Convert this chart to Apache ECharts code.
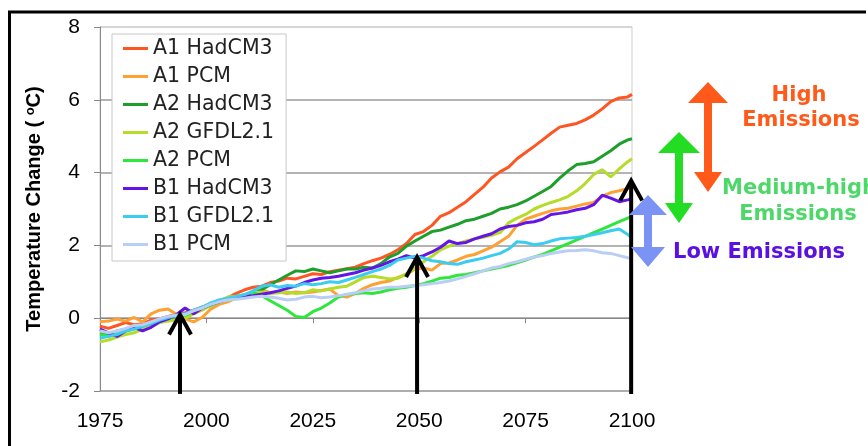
<!DOCTYPE html>
<html><head><meta charset="utf-8">
<script src="https://cdn.jsdelivr.net/npm/echarts@6/dist/echarts.min.js"></script>
<style>html,body{margin:0;padding:0;background:#fff}#c{width:868px;height:446px}</style>
</head><body><div id="c"></div>
<script>
const years = [1975,1977,1979,1981,1983,1985,1987,1989,
  1991,1993,1995,1997,1999,2001,2003,2005,
  2007,2009,2011,2013,2015,2017,2019,2021,
  2023,2025,2027,2029,2031,2033,2035,2037,
  2039,2041,2043,2045,2047,2049,2051,2053,
  2055,2057,2059,2061,2063,2065,2067,2069,
  2071,2073,2075,2077,2079,2081,2083,2085,
  2087,2089,2091,2093,2095,2097,2099,2100];

const seriesNames = ['A1 HadCM3','A1 PCM','A2 HadCM3','A2 GFDL2.1','A2 PCM','B1 HadCM3','B1 GFDL2.1','B1 PCM'];
const seriesColors = ['#FF5522','#FFA033','#1E9E2A','#B4DC28','#2EE63C','#6414E6','#3CCCF0','#B9CEF5'];

const a1HadCM3 = [-0.22,-0.28,-0.2,-0.12,-0.18,-0.15,-0.05,-0.02,
  0.05,0.1,0.15,0.22,0.3,0.4,0.48,0.56,
  0.68,0.78,0.85,0.88,0.98,1.02,1.1,1.08,
  1.15,1.22,1.2,1.28,1.32,1.36,1.4,1.5,
  1.58,1.65,1.75,1.88,2.05,2.3,2.38,2.55,
  2.8,2.9,3.05,3.2,3.4,3.6,3.85,4.02,
  4.15,4.38,4.55,4.72,4.9,5.08,5.25,5.3,
  5.35,5.45,5.58,5.75,5.95,6.05,6.08,6.15];
const a1PCM = [-0.1,-0.08,-0.02,-0.08,0.02,-0.1,0.12,0.22,
  0.25,0.1,-0.02,-0.1,0.02,0.25,0.38,0.45,
  0.55,0.62,0.72,0.78,0.7,0.72,0.68,0.72,
  0.7,0.72,0.76,0.8,0.62,0.58,0.68,0.82,
  0.92,0.98,1.02,1.12,1.2,1.35,1.38,1.32,
  1.5,1.52,1.6,1.7,1.75,1.85,1.95,2.1,
  2.25,2.55,2.72,2.8,2.88,2.95,3.0,3.02,
  3.08,3.14,3.18,3.35,3.45,3.5,3.56,3.6];
const a2HadCM3 = [-0.4,-0.45,-0.35,-0.3,-0.28,-0.22,-0.15,-0.05,
  0.0,0.05,0.12,0.2,0.3,0.38,0.45,0.52,
  0.6,0.62,0.68,0.78,0.92,1.05,1.18,1.3,
  1.28,1.35,1.3,1.25,1.3,1.35,1.35,1.4,
  1.38,1.5,1.68,1.78,1.98,2.12,2.25,2.38,
  2.42,2.5,2.58,2.68,2.72,2.8,2.88,3.0,
  3.05,3.12,3.22,3.35,3.48,3.62,3.85,4.05,
  4.22,4.25,4.3,4.45,4.6,4.78,4.9,4.93];
const a2GFDL = [-0.65,-0.6,-0.52,-0.45,-0.4,-0.3,-0.25,-0.12,
  -0.08,-0.05,0.0,0.12,0.22,0.35,0.45,0.58,
  0.6,0.62,0.7,0.72,0.68,0.7,0.72,0.68,
  0.7,0.78,0.75,0.8,0.85,0.88,1.0,1.12,
  1.15,1.12,1.08,1.1,1.22,1.38,1.55,1.7,
  1.88,1.98,2.05,2.12,2.18,2.22,2.28,2.35,
  2.62,2.75,2.85,3.0,3.1,3.18,3.25,3.35,
  3.5,3.7,3.95,4.08,3.88,4.1,4.3,4.38];
const a2PCM = [-0.45,-0.5,-0.42,-0.35,-0.3,-0.22,-0.15,-0.05,
  0.0,0.05,0.08,0.18,0.28,0.35,0.45,0.5,
  0.58,0.65,0.7,0.62,0.48,0.35,0.22,0.05,
  0.02,0.18,0.28,0.42,0.58,0.65,0.68,0.7,
  0.68,0.72,0.78,0.82,0.85,0.9,0.95,1.02,
  1.1,1.12,1.18,1.2,1.25,1.3,1.35,1.4,
  1.45,1.52,1.6,1.68,1.75,1.85,1.95,2.05,
  2.15,2.25,2.35,2.45,2.55,2.65,2.75,2.8];
const b1HadCM3 = [-0.3,-0.4,-0.5,-0.35,-0.25,-0.35,-0.25,-0.1,
  -0.02,0.1,0.28,0.12,0.28,0.38,0.45,0.52,
  0.58,0.6,0.62,0.66,0.7,0.75,0.82,0.88,
  0.98,1.05,1.1,1.12,1.15,1.2,1.25,1.32,
  1.38,1.45,1.55,1.62,1.72,1.65,1.72,1.82,
  1.95,2.12,2.05,2.08,2.18,2.25,2.32,2.45,
  2.52,2.55,2.62,2.65,2.72,2.85,2.88,2.92,
  2.98,3.02,3.12,3.38,3.3,3.2,3.25,3.28];
const b1GFDL = [-0.55,-0.5,-0.45,-0.35,-0.3,-0.22,-0.15,-0.05,
  0.02,0.08,0.12,0.22,0.3,0.42,0.5,0.55,
  0.6,0.65,0.75,0.88,0.92,0.85,0.9,0.88,
  0.95,0.92,0.95,1.0,0.98,1.05,1.12,1.2,
  1.28,1.35,1.45,1.6,1.65,1.7,1.65,1.58,
  1.55,1.5,1.48,1.55,1.6,1.65,1.72,1.78,
  1.9,2.1,2.08,2.02,2.05,2.12,2.18,2.2,
  2.22,2.25,2.3,2.35,2.4,2.45,2.3,2.2];
const b1PCM = [-0.35,-0.4,-0.35,-0.28,-0.2,-0.18,-0.1,-0.02,
  0.05,0.08,0.1,0.2,0.28,0.38,0.45,0.5,
  0.52,0.55,0.58,0.6,0.58,0.55,0.5,0.52,
  0.58,0.6,0.56,0.58,0.62,0.65,0.7,0.75,
  0.8,0.82,0.85,0.85,0.88,0.9,0.92,0.95,
  0.98,1.02,1.08,1.15,1.22,1.3,1.38,1.42,
  1.5,1.55,1.62,1.68,1.72,1.78,1.82,1.85,
  1.86,1.88,1.85,1.8,1.78,1.72,1.66,1.65];

const seriesValues = [a1HadCM3,a1PCM,a2HadCM3,a2GFDL,a2PCM,b1HadCM3,b1GFDL,b1PCM];

const xTicks = [1975,2000,2025,2050,2075,2100];
const yTicks = [-2,0,2,4,6,8];

// black annotation arrows (year, tip value, base value)
const arrowYears = [1993.8, 2049.5, 2099.8];
const arrowTips = [0.1, 1.68, 3.78];
const arrowBase = -2.08;

const chart = echarts.init(document.getElementById('c'));
const option = {
  backgroundColor: '#fff',
  animation: false,
  grid: {left: 100, right: 236, top: 27, bottom: 55, show: true, borderColor: '#cfcfcf', borderWidth: 1},
  legend: {
    orient: 'vertical', left: 112, top: 34,
    backgroundColor: '#fff', borderColor: '#c8c8c8', borderWidth: 1,
    padding: [4, 12, 6, 11], itemGap: 7, itemWidth: 25, itemHeight: 3, icon: 'rect',
    textStyle: {fontFamily: 'DejaVu Sans', fontSize: 20.5, color: '#222', lineHeight: 20},
    data: seriesNames
  },
  xAxis: {
    type: 'value', min: xTicks[0], max: xTicks[xTicks.length-1], interval: 25,
    axisLine: {lineStyle: {color: '#888', width: 1}},
    axisTick: {length: 5, lineStyle: {color: '#888'}},
    splitLine: {show: false},
    axisLabel: {margin: 20, fontFamily: 'Liberation Sans', fontSize: 21, color: '#000', formatter: v => String(v)}
  },
  yAxis: {
    type: 'value', min: yTicks[0], max: yTicks[yTicks.length-1], interval: 2,
    name: '{a|Temperature Change (\u00a0}{s|o}{a|C)}',
    nameLocation: 'middle', nameGap: 56,
    nameTextStyle: {rich: {
      a: {fontFamily: 'Liberation Sans', fontSize: 20, fontWeight: 'bold', color: '#000'},
      s: {fontFamily: 'Liberation Sans', fontSize: 13, fontWeight: 'bold', color: '#000', verticalAlign: 'top'}
    }},
    axisLine: {show: true, lineStyle: {color: '#888', width: 1}},
    axisTick: {show: true, length: 6, lineStyle: {color: '#888'}},
    splitLine: {show: true, lineStyle: {color: ['#9a9a9a','#9a9a9a','#9a9a9a','#9a9a9a','#9a9a9a','#d0d0d0'], width: 1.5}},
    axisLabel: {margin: 20, fontFamily: 'Liberation Sans', fontSize: 21, color: '#000'}
  },
  series: seriesNames.map((n, i) => ({
    name: n, type: 'line', symbol: 'none', smooth: false,
    color: seriesColors[i],
    itemStyle: {color: seriesColors[i]},
    lineStyle: {width: 3, color: seriesColors[i]},
    data: years.map((y, j) => [y, seriesValues[i][j]])
  }))
};
chart.setOption(option);

const graphics = [];
arrowYears.forEach((yr, i) => {
  const tip = chart.convertToPixel({gridIndex: 0}, [yr, arrowTips[i]]);
  const base = chart.convertToPixel({gridIndex: 0}, [yr, arrowBase]);
  graphics.push({type: 'line', z: 100, shape: {x1: tip[0], y1: base[1], x2: tip[0], y2: tip[1] + 2},
    style: {stroke: '#000', lineWidth: 4}});
  graphics.push({type: 'polyline', z: 100, shape: {points: [[tip[0]-11, tip[1]+20],[tip[0], tip[1]],[tip[0]+11, tip[1]+20]]},
    style: {stroke: '#000', lineWidth: 4, fill: null, lineJoin: 'miter'}});
});

function dbl(cx, top, topBase, topHalf, botBase, botHalf, bottom, shaftHalf, color) {
  return {type: 'polygon', z: 100, shape: {points: [
    [cx, top], [cx+topHalf, topBase], [cx+shaftHalf, topBase], [cx+shaftHalf, botBase],
    [cx+botHalf, botBase], [cx, bottom], [cx-botHalf, botBase], [cx-shaftHalf, botBase],
    [cx-shaftHalf, topBase], [cx-topHalf, topBase]]}, style: {fill: color}};
}
graphics.push(dbl(708, 82, 103, 20, 172, 14, 192, 4, '#FF5A1A'));
graphics.push(dbl(679, 132, 153, 21, 203, 14, 223, 4, '#22DD22'));
graphics.push(dbl(648, 195, 215, 19, 247, 17, 267, 4, '#7B93F5'));

const annoFont = {fontFamily: 'DejaVu Sans', fontSize: 21, fontWeight: 'bold'};
graphics.push({type: 'text', z: 100, style: Object.assign({text: 'High', x: 799, y: 96, fill: '#FF5A1A', align: 'center', verticalAlign: 'middle'}, annoFont)});
graphics.push({type: 'text', z: 100, style: Object.assign({text: 'Emissions', x: 801, y: 121, fill: '#FF5A1A', align: 'center', verticalAlign: 'middle'}, annoFont)});
graphics.push({type: 'text', z: 100, style: Object.assign({text: 'Medium-high', x: 722, y: 189, fill: '#4FD86A', align: 'left', verticalAlign: 'middle'}, annoFont)});
graphics.push({type: 'text', z: 100, style: Object.assign({text: 'Emissions', x: 798, y: 215, fill: '#4FD86A', align: 'center', verticalAlign: 'middle'}, annoFont)});
graphics.push({type: 'text', z: 100, style: Object.assign({text: 'Low Emissions', x: 673, y: 253, fill: '#5A10E0', align: 'left', verticalAlign: 'middle'}, annoFont)});

// outer frame (left and top edges)
graphics.push({type: 'polyline', z: 100, shape: {points: [[9.5, 450], [9.5, 12], [866, 12]]},
  style: {stroke: '#000', lineWidth: 3, fill: null}});

chart.setOption({graphic: graphics});
</script></body></html>
